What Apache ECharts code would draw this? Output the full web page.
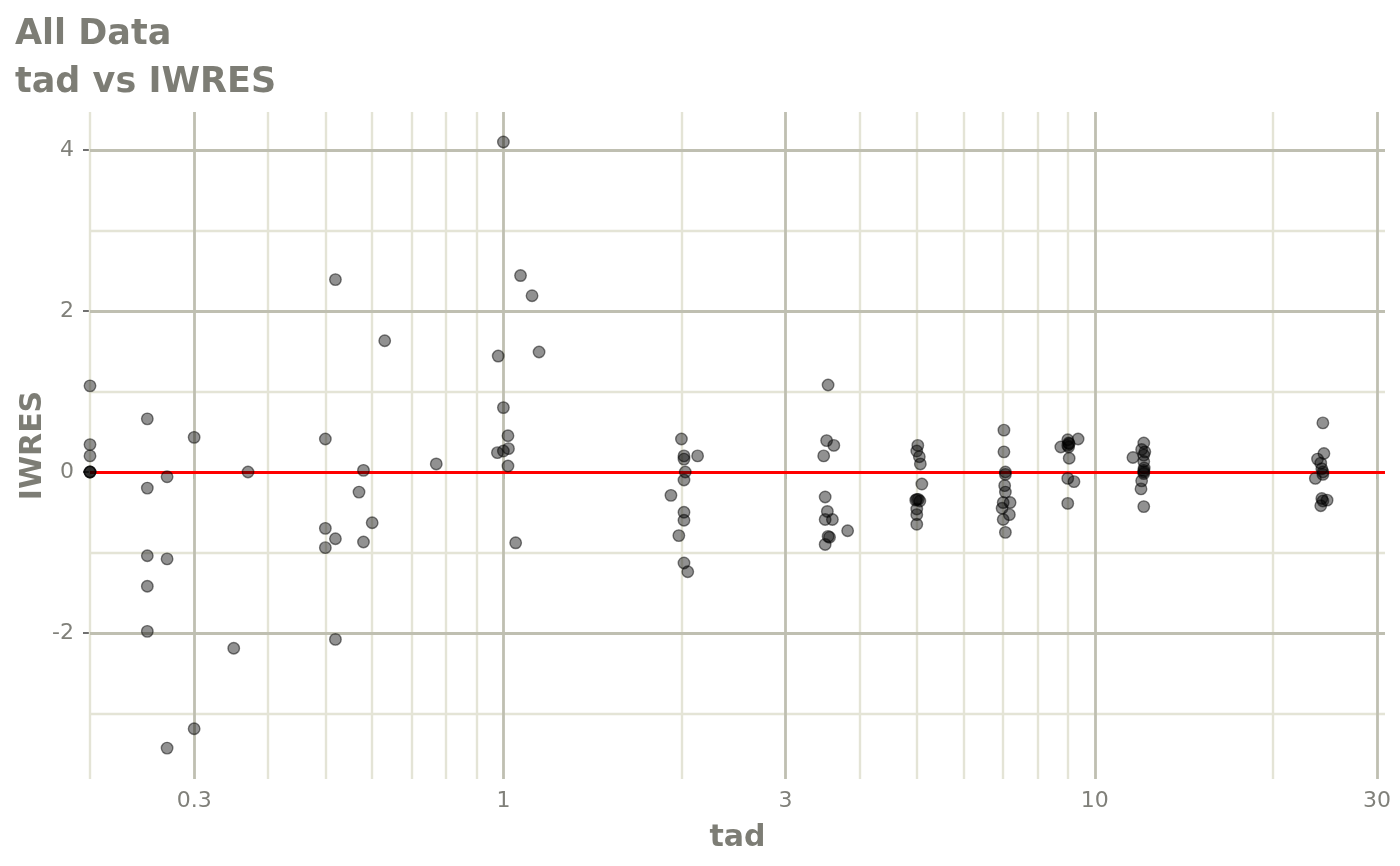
<!DOCTYPE html>
<html><head><meta charset="utf-8">
<script src="https://cdn.jsdelivr.net/npm/echarts@6/dist/echarts.min.js"></script>
<style>html,body{margin:0;padding:0;background:#fff}#c{width:1400px;height:866px}</style>
</head><body><div id="c"></div>
<script>
// ---- data ----
const tad = [
  0.2, 0.2, 0.2, 0.2, 0.2, 0.2,
  0.25, 0.25, 0.25, 0.25, 0.25,
  0.27, 0.27, 0.27,
  0.30, 0.30,
  0.35, 0.37,
  0.50, 0.50, 0.50,
  0.52, 0.52, 0.52,
  0.57, 0.58, 0.58, 0.60, 0.63, 0.77,
  0.98, 1.0, 1.0, 1.0, 0.977, 1.018, 1.018, 1.02, 1.049, 1.069, 1.118, 1.149,
  2.0, 2.02, 2.02, 2.13, 2.03, 2.02, 1.92, 2.02, 2.02, 1.98, 2.02, 2.05,
  3.54, 3.52, 3.62, 3.48, 3.50, 3.53, 3.50, 3.60, 3.82, 3.54, 3.56, 3.50,
  5.02, 5.0, 5.05, 5.07, 5.1, 5.03, 5.0, 4.98, 5.06, 5.0, 5.0, 5.0,
  7.02, 7.02, 7.06, 7.06, 7.04, 7.06, 7.19, 7.0, 6.97, 7.17, 7.0, 7.06,
  9.37, 9.0, 9.03, 9.03, 9.0, 9.05, 8.76, 9.05, 9.0, 9.22, 9.0,
  12.1, 12.0, 11.6, 12.1, 12.1, 12.1, 12.1, 12.0, 11.97, 12.1, 12.15, 12.12, 12.1,
  24.3, 24.4, 23.8, 24.1, 24.2, 24.3, 24.3, 23.6, 24.2, 24.7, 24.1, 24.3
];
const iwres = [
  1.07, 0.34, 0.20, 0, 0, 0,
  0.66, -0.20, -1.04, -1.42, -1.98,
  -0.06, -1.08, -3.43,
  0.43, -3.19,
  -2.19, 0.0,
  0.41, -0.70, -0.94,
  2.39, -0.83, -2.08,
  -0.25, 0.02, -0.87, -0.63, 1.63, 0.10,
  1.44, 4.10, 0.80, 0.26, 0.24, 0.45, 0.075, 0.29, -0.88, 2.44, 2.19, 1.49,
  0.41, 0.20, 0.16, 0.20, 0.0, -0.10, -0.29, -0.50, -0.60, -0.79, -1.13, -1.24,
  1.08, 0.39, 0.33, 0.20, -0.31, -0.49, -0.59, -0.59, -0.73, -0.80, -0.81, -0.90,
  0.33, 0.26, 0.19, 0.10, -0.15, -0.34, -0.34, -0.35, -0.36, -0.46, -0.53, -0.65,
  0.52, 0.25, 0.0, -0.03, -0.17, -0.25, -0.38, -0.38, -0.45, -0.53, -0.59, -0.75,
  0.41, 0.40, 0.36, 0.31, 0.33, 0.35, 0.31, 0.17, -0.08, -0.12, -0.39,
  0.36, 0.28, 0.18, 0.21, 0.13, 0.02, -0.02, -0.11, -0.21, -0.43, 0.25, 0.05, 0.0,
  0.61, 0.23, 0.16, 0.11, 0.04, 0.0, -0.03, -0.08, -0.33, -0.35, -0.42, -0.36
];
const xMajorTicks = [0.3, 1, 3, 10, 30];
const xMajorLabels = ['0.3', '1', '3', '10', '30'];
const xMinorGrid = [0.2, 0.4, 0.5, 0.6, 0.7, 0.8, 0.9, 2, 4, 5, 6, 7, 8, 9, 20];
const yMajorTicks = [-2, 0, 2, 4];
const yMinorGrid = [-3, -1, 1, 3];
const refLineY = 0;
const titleText = 'All Data\ntad vs IWRES';
const xName = 'tad';
const yName = 'IWRES';

// ---- chart ----
const FONT = 'DejaVu Sans';
const TITLE_COL = '#7d7d75';
const LABEL_COL = '#80807a';
const MAJOR_COL = '#bfbfb1';
const MINOR_COL = '#e4e4d6';
const TICK_COL = '#707070';

const points = tad.map((t, i) => [t, iwres[i]]);
const noLabel = { show: false };
const gridLines = (vals, key, color, width) => vals.map(v => ({
  [key]: v, lineStyle: { color: color, width: width, type: 'solid' }
}));

const chart = echarts.init(document.getElementById('c'), null, { renderer: 'canvas' });
chart.setOption({
  animation: false,
  backgroundColor: '#ffffff',
  title: {
    text: titleText, left: 15, top: 11, padding: 0,
    textStyle: { fontFamily: FONT, fontSize: 35, fontWeight: 'bold', color: TITLE_COL, lineHeight: 48 }
  },
  grid: { left: 90, right: 15, top: 112, bottom: 87, containLabel: false },
  xAxis: {
    type: 'log', logBase: 10, min: 0.2, max: 30.95,
    name: xName, nameLocation: 'middle', nameGap: 44,
    nameTextStyle: { fontFamily: FONT, fontSize: 30, fontWeight: 'bold', color: TITLE_COL, lineHeight: 30 },
    axisLine: { show: false },
    splitLine: { show: false }, minorSplitLine: { show: false }, minorTick: { show: false },
    axisTick: { show: true, customValues: xMajorTicks, length: 7, lineStyle: { color: TICK_COL, width: 2 } },
    axisLabel: {
      show: true, customValues: xMajorTicks, margin: 11,
      fontFamily: FONT, fontSize: 22, color: LABEL_COL, lineHeight: 22,
      formatter: function (v) {
        const i = xMajorTicks.findIndex(t => Math.abs(t - v) / t < 1e-6);
        return i >= 0 ? xMajorLabels[i] : String(v);
      }
    }
  },
  yAxis: {
    type: 'value', min: -3.814, max: 4.472,
    name: yName, nameLocation: 'middle', nameRotate: 90, nameGap: 42, nameMoveOverlap: false,
    nameTextStyle: { fontFamily: FONT, fontSize: 30, fontWeight: 'bold', color: TITLE_COL, lineHeight: 30 },
    axisLine: { show: false },
    splitLine: { show: false },
    axisTick: { show: true, customValues: yMajorTicks, length: 7, lineStyle: { color: TICK_COL, width: 2 } },
    axisLabel: {
      show: true, customValues: yMajorTicks, margin: 16,
      fontFamily: FONT, fontSize: 22, color: LABEL_COL,
      formatter: function (v) { return String(v); }
    }
  },
  series: [
    {
      type: 'scatter', data: [], z: 1, silent: true,
      markLine: {
        z: 1, silent: true, symbol: ['none', 'none'], label: noLabel, animation: false,
        data: gridLines(xMinorGrid, 'xAxis', MINOR_COL, 2.4).concat(gridLines(yMinorGrid, 'yAxis', MINOR_COL, 2.4))
      }
    },
    {
      type: 'scatter', data: [], z: 2, silent: true,
      markLine: {
        z: 2, silent: true, symbol: ['none', 'none'], label: noLabel, animation: false,
        data: gridLines(xMajorTicks, 'xAxis', MAJOR_COL, 2.8).concat(gridLines(yMajorTicks, 'yAxis', MAJOR_COL, 2.8))
      }
    },
    {
      type: 'scatter', data: [], z: 3, silent: true,
      markLine: {
        z: 3, silent: true, symbol: ['none', 'none'], label: noLabel, animation: false,
        emphasis: { disabled: true },
        data: [{ yAxis: refLineY, lineStyle: { color: '#ff0000', width: 3, type: 'solid', opacity: 1 } }]
      }
    },
    {
      type: 'scatter', data: points, z: 4, symbol: 'circle', symbolSize: 11.5,
      itemStyle: { color: 'rgba(0,0,0,0.54)', borderColor: 'rgba(0,0,0,0.62)', borderWidth: 1.4 }
    }
  ]
});
</script>
</body></html>
